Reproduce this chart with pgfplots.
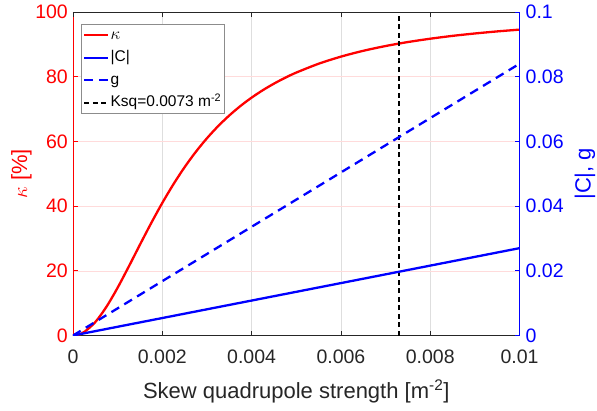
\documentclass[border=0pt]{standalone}
\usepackage{pgfplots}
\pgfplotsset{compat=1.18}
\usepackage{pgfplotstable}
\usepackage{fontspec}
\setmainfont{Liberation Sans}
\definecolor{mred}{rgb}{1,0,0}
\definecolor{mblue}{rgb}{0,0,1}
\definecolor{axgray}{rgb}{0.15,0.15,0.15}
\definecolor{gridgray}{rgb}{0.87,0.87,0.87}
\definecolor{gridpink}{rgb}{1,0.86,0.86}
\definecolor{leggray}{rgb}{0.55,0.55,0.55}

\pgfplotstableread{
x k
0 0
0.0001 0.17
0.00025 1.07
0.0005 4.16
0.00075 8.90
0.001 14.79
0.00125 21.34
0.0015 28.09
0.00175 34.71
0.002 40.98
0.00225 46.77
0.0025 52.04
0.00275 56.76
0.003 60.97
0.00325 64.71
0.0035 68.01
0.00375 70.94
0.004 73.53
0.00425 75.82
0.0045 77.85
0.00475 79.66
0.005 81.27
0.0055 84.00
0.006 86.20
0.0065 88.00
0.007 89.48
0.0075 90.71
0.008 91.74
0.0085 92.62
0.009 93.36
0.0095 94.00
0.01 94.55
}\kappadata

\pgfplotstableread{
x c g
0 0 0
0.002 0.0054 0.0168
0.004 0.0108 0.0336
0.006 0.0162 0.0504
0.008 0.0216 0.0672
0.01 0.0270 0.0840
}\cgdata

\newcommand{\tickfont}{\fontsize{19.5}{22}\selectfont}
\newcommand{\labfont}{\fontsize{22}{26}\selectfont}

\begin{document}
\begin{tikzpicture}
\useasboundingbox (-73pt,-74.5pt) rectangle (524pt,335.5pt);
\begin{axis}[
  scale only axis, width=446.5pt, height=323.5pt,
  at={(0pt,0pt)}, anchor=south west,
  axis x line*=bottom, axis y line*=left,
  xmin=0, xmax=0.01, ymin=0, ymax=100,
  xtick={0,0.002,0.004,0.006,0.008,0.01},
  xticklabels={0,0.002,0.004,0.006,0.008,0.01},
  ytick={0,20,40,60,80,100},
  yticklabels={0,20,40,60,80,100},
  scaled x ticks=false, scaled y ticks=false,
  tick align=inside,
  major tick length=5pt,
  xmajorgrids, ymajorgrids,
  x grid style={gridgray, line width=0.6pt},
  y grid style={gridpink, line width=0.6pt},
  x axis line style={axgray, line width=0.8pt},
  y axis line style={mred, line width=0.8pt},
  xtick style={axgray, line width=0.8pt},
  ytick style={mred, line width=0.8pt},
  xticklabel style={font=\tickfont, text=axgray, anchor=base, inner sep=0pt, yshift=-28pt},
  yticklabel style={font=\tickfont, text=mred, anchor=east, inner sep=0pt, xshift=-5pt},
  xlabel={Skew quadrupole strength [m\textsuperscript{-2}]},
  xlabel style={at={(axis description cs:0.5,0)}, anchor=base, inner sep=0pt, yshift=-62.5pt, font=\labfont, text=axgray},
  ylabel={$\kappa$ [\%]},
  ylabel style={at={(axis description cs:0,0.5)}, anchor=center, inner sep=0pt, yshift=51.5pt, font=\labfont, text=mred},
]
\addplot[mred, line width=2.3pt, smooth] table[x=x, y=k] {\kappadata};
\addplot[black, line width=1.5pt, dash pattern=on 5pt off 3.5pt] coordinates {(0.0073,0) (0.0073,100)};
\end{axis}
\begin{axis}[
  scale only axis, width=446.5pt, height=323.5pt,
  at={(0pt,0pt)}, anchor=south west,
  xmin=0, xmax=0.01, ymin=0, ymax=100,
  axis x line*=top, axis y line=none,
  xtick={0,0.002,0.004,0.006,0.008,0.01},
  xticklabels={},
  scaled x ticks=false, scaled y ticks=false,
  tick align=inside,
  major tick length=5pt,
  x axis line style={axgray, line width=0.8pt},
  xtick style={axgray, line width=0.8pt},
]
\end{axis}
\begin{axis}[
  scale only axis, width=446.5pt, height=323.5pt,
  at={(0pt,0pt)}, anchor=south west,
  xmin=0, xmax=0.01, ymin=0, ymax=0.1,
  axis x line=none, axis y line*=right,
  ytick={0,0.02,0.04,0.06,0.08,0.1},
  yticklabels={0,0.02,0.04,0.06,0.08,0.1},
  scaled x ticks=false, scaled y ticks=false,
  tick align=inside,
  major tick length=5pt,
  y axis line style={mblue, line width=0.8pt},
  ytick style={mblue, line width=0.8pt},
  yticklabel style={font=\tickfont, text=mblue, anchor=west, inner sep=0pt, xshift=6pt},
  ylabel={|C|, g},
  ylabel style={at={(axis description cs:1,0.5)}, anchor=center, inner sep=0pt, yshift=-65.5pt, font=\labfont, text=mblue},
  legend style={at={(axis description cs:0.018,0.963)}, anchor=north west,
    draw=leggray, line width=0.6pt, fill=white,
    font=\fontsize{15.5}{18}\selectfont, inner xsep=2pt, inner ysep=3pt,
    row sep=6.5pt,
    nodes={inner sep=1pt, text height=11pt, text depth=3pt}},
  legend cell align=left,
  legend image code/.code={\draw[#1, line cap=butt] (0pt,0pt) -- (24pt,0pt);},
]
\addlegendimage{mred, line width=2.3pt}
\addlegendentry{\fontsize{17}{18}\selectfont$\kappa$}
\addplot[mblue, line width=2.3pt] table[x=x, y=c] {\cgdata};
\addlegendentry{|C|}
\addplot[mblue, line width=2.3pt, dash pattern=on 9pt off 6pt] table[x=x, y=g] {\cgdata};
\addlegendentry{g}
\addlegendimage{black, line width=1.5pt, dash pattern=on 5pt off 3.5pt}
\addlegendentry{Ksq=0.0073 m\textsuperscript{-2}}
\end{axis}
\end{tikzpicture}
\end{document}
